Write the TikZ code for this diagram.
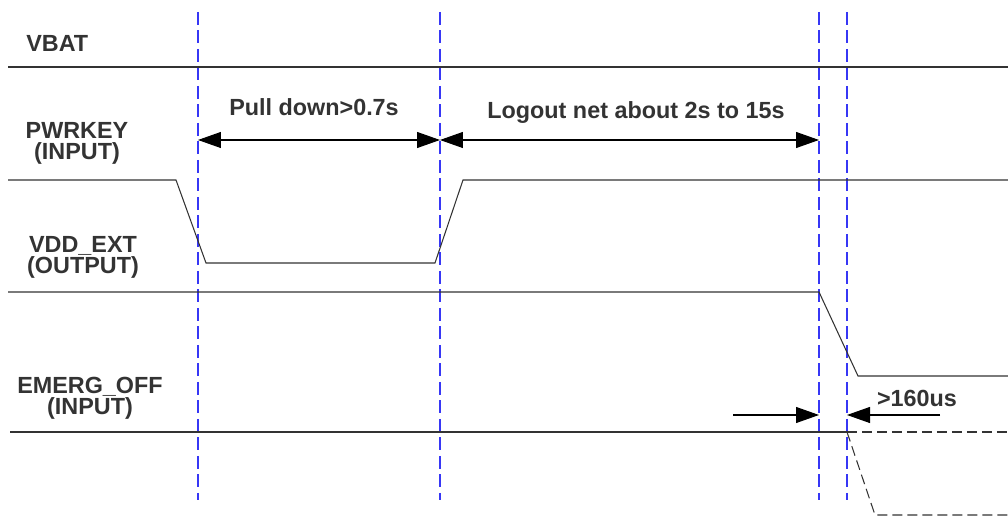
\documentclass[tikz,border=0pt]{standalone}
\usepackage{fontspec}
\setmainfont{Liberation Sans}
\usetikzlibrary{arrows.meta}
\definecolor{guideblue}{RGB}{55,55,245}
\definecolor{labelgray}{RGB}{51,51,51}
\tikzset{
	sig/.style={line width=0.6pt, black!80},
	guide/.style={guideblue, line width=0.6pt, dash pattern=on 2.6mm off 1.1mm},
	span/.style={line width=0.6pt, {Triangle[length=4.6mm,width=3.2mm]}-{Triangle[length=4.6mm,width=3.2mm]}},
	tip/.style={line width=0.6pt, -{Triangle[length=4.6mm,width=3.2mm]}},
	lbl/.style={font=\fontsize{13.3pt}{12pt}\selectfont\bfseries, text=labelgray, inner sep=0pt, align=center},
}
\begin{document}
\begin{tikzpicture}[x=0.02cm,y=-0.02cm]
	\useasboundingbox (0,0) rectangle (1008,516);
	\draw[guide] (198,12) -- (198,500);
	\draw[guide] (440,12) -- (440,500);
	\draw[guide] (819,12) -- (819,500);
	\draw[guide] (847,12) -- (847,500);
	
	\node[lbl, anchor=base west] (vbat) at (26,52) {VBAT};
	\node[lbl] (pwrkey) at (77,143) {PWRKEY\\(INPUT)};
	\node[lbl] (vddext) at (83,257) {VDD\_EXT\\(OUTPUT)};
	\node[lbl] (emergoff) at (90,398) {EMERG\_OFF\\(INPUT)};
	
	\draw[sig] (8,67) -- (1008,67);
	\draw[sig] (8,180) -- (176,180) -- (206,263) -- (435,263) -- (463,180) -- (1008,180);
	\draw[sig] (8,292) -- (819,292) -- (858,376) -- (1008,376);
	\draw[sig] (10,432) -- (847,432);
	\draw[sig, dash pattern=on 2mm off 1mm] (847,432) -- (1008,432);
	\draw[sig, dash pattern=on 2mm off 1mm] (847,432) -- (875,515) -- (1008,515);
	
	\coordinate (g1) at (198,140);
	\coordinate (g2) at (440,140);
	\coordinate (g3) at (819,140);
	\coordinate (e3) at (819,415);
	\coordinate (e4) at (847,415);
	\coordinate (eleft) at (733,415);
	\coordinate (eright) at (940,415);
	
	\node[lbl, anchor=base] (pulldown) at (314,116) {Pull down>0.7s};
	\node[lbl, anchor=base] (logout) at (636,119) {Logout net about 2s to 15s};
	\node[lbl, anchor=base] (minoff) at (917,407) {>160us};
	
	\draw[span] (g1) -- (g2);
	\draw[span] (g2) -- (g3);
	\draw[tip] (eleft) -- (e3);
	\draw[tip] (eright) -- (e4);
\end{tikzpicture}
\end{document}
